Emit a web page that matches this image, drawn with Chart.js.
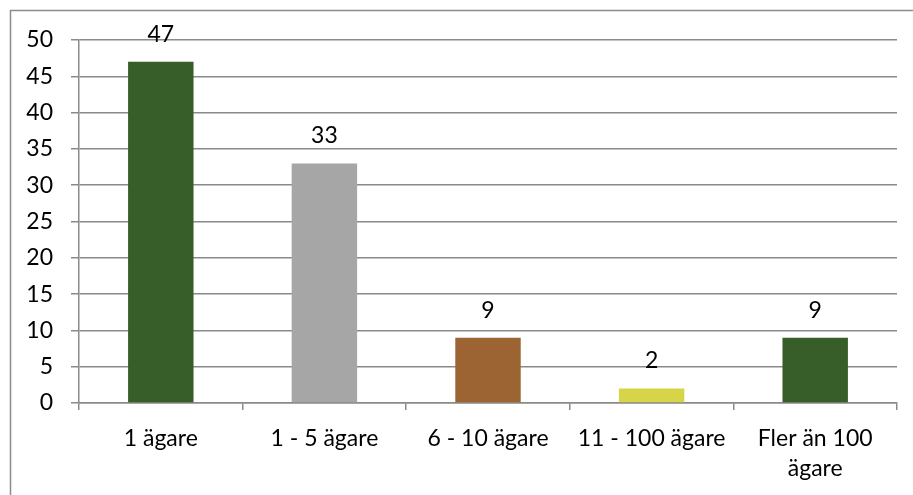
<!DOCTYPE html>
<html>
<head>
<meta charset="utf-8">
<script src="https://cdn.jsdelivr.net/npm/chart.js@4/dist/chart.umd.min.js"></script>
<style>
  html, body { margin: 0; padding: 0; background: #fff; }
  #wrap { width: 913px; height: 495px; position: relative; }
</style>
</head>
<body>
<div id="wrap"><canvas id="agare"></canvas></div>
<script>
// Antal ägare per kategori
const kategorier = ['1 ägare', '1 - 5 ägare', '6 - 10 ägare', '11 - 100 ägare', ['Fler än 100', 'ägare']];
const antal = [47, 33, 9, 2, 9];
const stapelFarger = ['#375e28', '#a6a6a6', '#9b6432', '#d6d548', '#375e28'];
const yTicks = [0, 5, 10, 15, 20, 25, 30, 35, 40, 45, 50];

const typsnitt = { family: 'Lato, "Open Sans", sans-serif', size: 23 };
const gridFarg = '#8a8a8a';

// Ram runt diagrammet (bara vänster och övre kant syns)
const ram = {
  id: 'ram',
  beforeDraw(chart) {
    const ctx = chart.ctx;
    ctx.save();
    ctx.strokeStyle = '#8c8c8c';
    ctx.lineWidth = 1.5;
    ctx.beginPath();
    ctx.moveTo(10.5, 495);
    ctx.lineTo(10.5, 10.5);
    ctx.lineTo(913, 10.5);
    ctx.stroke();
    ctx.restore();
  }
};

// Värdet ovanför varje stapel
const vardeEtiketter = {
  id: 'vardeEtiketter',
  afterDatasetsDraw(chart) {
    const ctx = chart.ctx;
    const meta = chart.getDatasetMeta(0);
    ctx.save();
    ctx.font = `${typsnitt.size}px ${typsnitt.family}`;
    ctx.fillStyle = '#000';
    ctx.textAlign = 'center';
    ctx.textBaseline = 'alphabetic';
    meta.data.forEach((bar, i) => {
      ctx.fillText(String(antal[i]), bar.x, bar.y - 20);
    });
    ctx.restore();
  }
};

new Chart(document.getElementById('agare'), {
  type: 'bar',
  data: {
    labels: kategorier,
    datasets: [{
      data: antal,
      backgroundColor: stapelFarger,
      barPercentage: 0.4,
      categoryPercentage: 1.0
    }]
  },
  options: {
    responsive: true,
    maintainAspectRatio: false,
    animation: false,
    layout: { padding: { top: 40, right: 16, bottom: 0, left: 0 } },
    plugins: {
      legend: { display: false },
      tooltip: { enabled: false }
    },
    scales: {
      x: {
        grid: {
          offset: true,
          drawOnChartArea: false,
          drawTicks: true,
          tickLength: 7,
          color: gridFarg,
          lineWidth: 1.5
        },
        border: { color: gridFarg, width: 1.5 },
        ticks: {
          color: '#000',
          font: { ...typsnitt, lineHeight: 1.3 },
          padding: 14,
          maxRotation: 0,
          autoSkip: false
        },
        afterFit(scale) { scale.height = 92; }
      },
      y: {
        min: 0,
        max: 50,
        afterBuildTicks(scale) { scale.ticks = yTicks.map(v => ({ value: v })); },
        grid: {
          color: gridFarg,
          lineWidth: 1.5,
          drawTicks: true,
          tickLength: 8
        },
        border: { color: gridFarg, width: 1.5 },
        ticks: {
          color: '#000',
          font: typsnitt,
          padding: 18
        },
        afterFit(scale) { scale.width = 79; }
      }
    }
  },
  plugins: [ram, vardeEtiketter]
});
</script>
</body>
</html>
